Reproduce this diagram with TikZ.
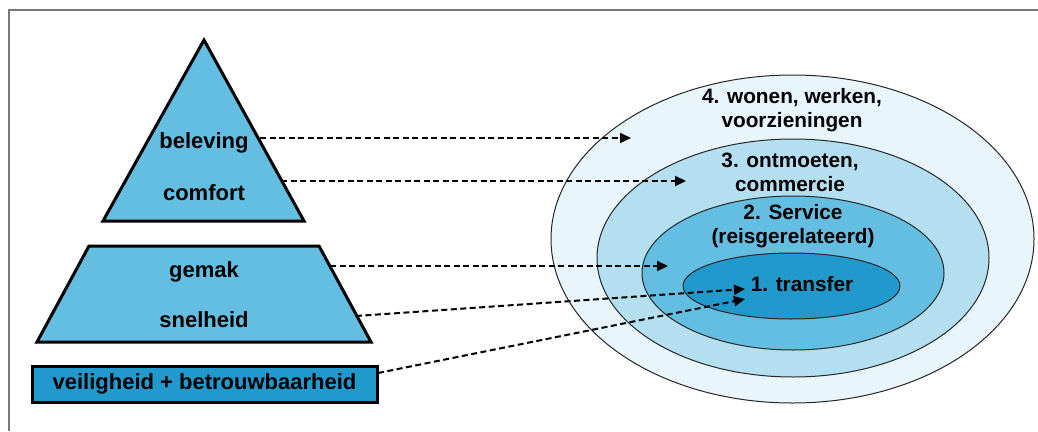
\documentclass[tikz,border=0pt]{standalone}
\usepackage{fontspec}
\setmainfont{Liberation Sans}
\usetikzlibrary{arrows.meta}
\definecolor{midblue}{RGB}{99,190,226}
\definecolor{darkblue}{RGB}{34,153,204}
\definecolor{paleblue}{RGB}{232,245,251}
\definecolor{lightblue}{RGB}{180,223,240}
\definecolor{framegray}{RGB}{120,120,120}
\tikzset{
  shapeline/.style={draw=black,line width=3pt,line join=miter},
  ringline/.style={draw=black!85,line width=1pt},
  ptext/.style={font=\bfseries\fontsize{22}{24}\selectfont,inner sep=0pt},
  etext/.style={font=\bfseries\fontsize{20.8}{24}\selectfont,inner sep=0pt,align=center},
  link/.style={line width=2pt,dash pattern=on 6pt off 3.5pt,-{Triangle[length=11pt,width=10pt]}}
}
\begin{document}
\begin{tikzpicture}[x=1pt,y=-1pt]
\useasboundingbox (0,0) rectangle (1038,431);
% frame
\draw[framegray,line width=1.8pt] (9,431) -- (9,10) -- (1038,10);
% pyramid top
\filldraw[shapeline,fill=midblue] (204,40) -- (304,221) -- (103,221) -- cycle;
\node[ptext] (bel) at (204,143) {beleving};
\node[ptext] (com) at (204,193) {comfort};
% trapezoid
\filldraw[shapeline,fill=midblue] (89,246) -- (319,246) -- (371,342) -- (37,342) -- cycle;
\node[ptext] (gem) at (204,272) {gemak};
\node[ptext] (sne) at (204,320) {snelheid};
% base box
\node[draw=black,line width=3pt,fill=darkblue,minimum width=345pt,minimum height=36pt,inner sep=0pt,font=\bfseries\fontsize{22}{24}\selectfont] (vei) at (204.5,384) {veiligheid + betrouwbaarheid};
% rings
\filldraw[ringline,fill=paleblue] (792.5,239) ellipse [x radius=241.5,y radius=164];
\filldraw[ringline,fill=lightblue] (793,258) ellipse [x radius=196,y radius=119];
\filldraw[ringline,fill=midblue] (793,273) ellipse [x radius=151,y radius=77];
\filldraw[ringline,fill=darkblue] (791.5,286) ellipse [x radius=108.5,y radius=33];
\node[etext] (r4) at (792,110) {4. wonen, werken,\\[0pt]voorzieningen};
\node[etext] (r3) at (790,172) {3. ontmoeten,\\[0pt]commercie};
\node[etext] (r2) at (793,226) {2. Service\\[0pt](reisgerelateerd)};
\node[etext] (r1) at (802,284) {1. transfer};
% connector anchors
\coordinate (s1) at (260,138);
\coordinate (e1) at (631,138);
\coordinate (s2) at (281,181);
\coordinate (e2) at (686,181);
\coordinate (s3) at (330,266);
\coordinate (e3) at (668,266);
\coordinate (s4) at (356,316);
\coordinate (e4) at (745,289);
\coordinate (s5) at (378,373);
\coordinate (e5) at (745,299);
\draw[link] (s1) -- (e1);
\draw[link] (s2) -- (e2);
\draw[link] (s3) -- (e3);
\draw[link] (s4) -- (e4);
\draw[link] (s5) -- (e5);
\end{tikzpicture}
\end{document}
